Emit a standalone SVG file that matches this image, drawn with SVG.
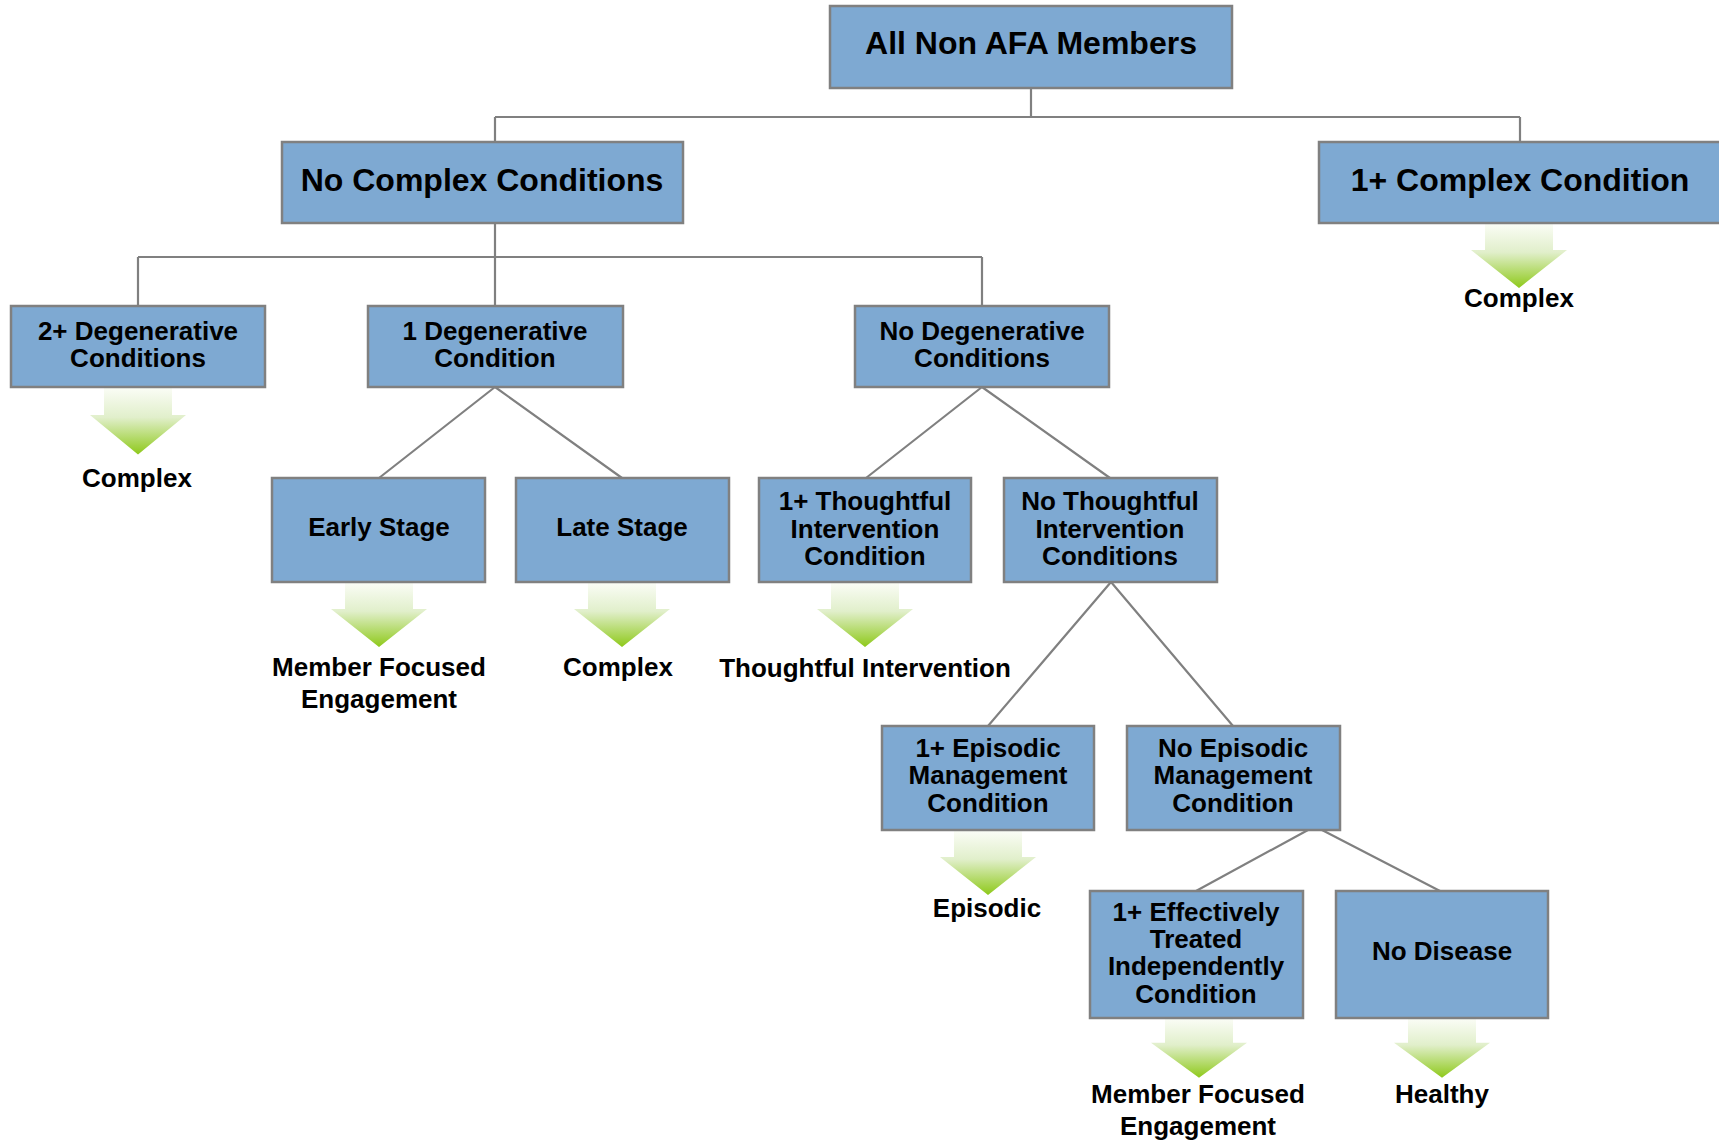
<svg xmlns="http://www.w3.org/2000/svg" xmlns:xlink="http://www.w3.org/1999/xlink" width="1719" height="1141" viewBox="0 0 1719 1141">
<defs>
<linearGradient id="g" x1="0" y1="0" x2="0" y2="1">
<stop offset="0" stop-color="#fbfdf7"/>
<stop offset="0.45" stop-color="#e1efcb"/>
<stop offset="1" stop-color="#8ec91a"/>
</linearGradient>
<path id="arr" d="M-34,0 H34 V27 H48 L0,65 L-48,27 H-34 Z" fill="url(#g)"/>
<style>
.box{fill:#7ea9d2;stroke:#808080;stroke-width:2.5}
.t{font-family:"Liberation Sans",Arial,sans-serif;font-weight:bold;font-size:26px;fill:#000;text-anchor:middle}
.big{font-size:32px}
.con{fill:none;stroke:#808080;stroke-width:2.2}
</style>
</defs>
<rect width="1719" height="1141" fill="#fff"/>
<g id="connectors" class="con">
<path d="M1031,88 V117 M495,117 H1520 M495,117 V142 M1520,117 V142"/>
<path d="M495,223 V257 M138,257 H982 M138,257 V306 M495,257 V306 M982,257 V306"/>
<path d="M495,387 L379,478 M495,387 L622,478"/>
<path d="M982,387 L866,478 M982,387 L1110,478"/>
<path d="M1111,582 L988,726 M1111,582 L1233,726"/>
<path d="M1308,830 L1196,891 M1322,830 L1440,891"/>
</g>
<g id="arrows">
<use xlink:href="#arr" transform="translate(1519,223)"/>
<use xlink:href="#arr" transform="translate(138,387) scale(1,1.04)"/>
<use xlink:href="#arr" transform="translate(379,582)"/>
<use xlink:href="#arr" transform="translate(622,582)"/>
<use xlink:href="#arr" transform="translate(865,582)"/>
<use xlink:href="#arr" transform="translate(988,830)"/>
<use xlink:href="#arr" transform="translate(1199,1018) scale(1,0.92)"/>
<use xlink:href="#arr" transform="translate(1442,1018) scale(1,0.92)"/>
</g>
<g id="n-root"><rect class="box" x="830" y="6" width="402" height="82"/><text class="t big" x="1031" y="54">All Non AFA Members</text></g>
<g id="n-nocomplex"><rect class="box" x="282" y="142" width="401" height="81"/><text class="t big" x="482" y="191">No Complex Conditions</text></g>
<g id="n-complex"><rect class="box" x="1319" y="142" width="410" height="81"/><text class="t big" x="1520" y="191">1+ Complex Condition</text></g>
<g id="n-2deg"><rect class="box" x="11" y="306" width="254" height="81"/><text class="t" x="138" y="340">2+ Degenerative</text><text class="t" x="138" y="367">Conditions</text></g>
<g id="n-1deg"><rect class="box" x="368" y="306" width="255" height="81"/><text class="t" x="495" y="340">1 Degenerative</text><text class="t" x="495" y="367">Condition</text></g>
<g id="n-nodeg"><rect class="box" x="855" y="306" width="254" height="81"/><text class="t" x="982" y="340">No Degenerative</text><text class="t" x="982" y="367">Conditions</text></g>
<g id="n-early"><rect class="box" x="272" y="478" width="213" height="104"/><text class="t" x="379" y="536">Early Stage</text></g>
<g id="n-late"><rect class="box" x="516" y="478" width="213" height="104"/><text class="t" x="622" y="536">Late Stage</text></g>
<g id="n-thought"><rect class="box" x="759" y="478" width="212" height="104"/><text class="t" x="865" y="510">1+ Thoughtful</text><text class="t" x="865" y="538">Intervention</text><text class="t" x="865" y="565">Condition</text></g>
<g id="n-nothought"><rect class="box" x="1004" y="478" width="213" height="104"/><text class="t" x="1110" y="510">No Thoughtful</text><text class="t" x="1110" y="538">Intervention</text><text class="t" x="1110" y="565">Conditions</text></g>
<g id="n-episodic"><rect class="box" x="882" y="726" width="212" height="104"/><text class="t" x="988" y="757">1+ Episodic</text><text class="t" x="988" y="784">Management</text><text class="t" x="988" y="812">Condition</text></g>
<g id="n-noepisodic"><rect class="box" x="1127" y="726" width="213" height="104"/><text class="t" x="1233" y="757">No Episodic</text><text class="t" x="1233" y="784">Management</text><text class="t" x="1233" y="812">Condition</text></g>
<g id="n-effective"><rect class="box" x="1090" y="891" width="213" height="127"/><text class="t" x="1196" y="921">1+ Effectively</text><text class="t" x="1196" y="948">Treated</text><text class="t" x="1196" y="975">Independently</text><text class="t" x="1196" y="1003">Condition</text></g>
<g id="n-nodisease"><rect class="box" x="1336" y="891" width="212" height="127"/><text class="t" x="1442" y="960">No Disease</text></g>
<g id="outcomes">
<text class="t" x="1519" y="307">Complex</text>
<text class="t" x="137" y="487">Complex</text>
<text class="t" x="379" y="676">Member Focused</text><text class="t" x="379" y="708">Engagement</text>
<text class="t" x="618" y="676">Complex</text>
<text class="t" x="865" y="677">Thoughtful Intervention</text>
<text class="t" x="987" y="917">Episodic</text>
<text class="t" x="1198" y="1103">Member Focused</text><text class="t" x="1198" y="1135">Engagement</text>
<text class="t" x="1442" y="1103">Healthy</text>
</g>
</svg>
